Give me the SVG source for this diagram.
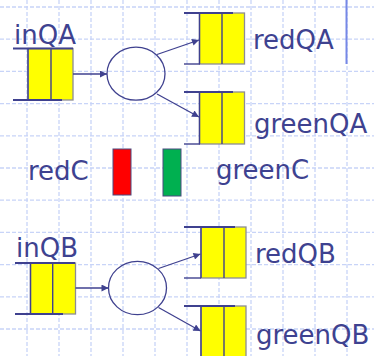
<svg xmlns="http://www.w3.org/2000/svg" width="374" height="356" viewBox="0 0 374 356">
<defs>
<marker id="ah" viewBox="0 0 10 10" refX="10" refY="5" markerWidth="9" markerHeight="7" markerUnits="userSpaceOnUse" orient="auto">
<path d="M0,0 L10,5 L0,10 z" fill="#3f418f"/>
</marker>
</defs>
<style>
.grid line{stroke:#c8d4f8;stroke-width:1.3;stroke-dasharray:4 2}
.lbl{font-family:"DejaVu Sans",Verdana,sans-serif;font-size:26px;fill:#3e4290}
.q{fill:#ffff00;stroke:#8c8c96;stroke-width:1.3}
.d{stroke:#3f418f;stroke-width:1.4;fill:none}
.t{stroke:#3f418f;stroke-width:2;fill:none}
.c{fill:none;stroke:#3f418f;stroke-width:1.3}
.con{stroke:#3f418f;stroke-width:1.3;fill:none;marker-end:url(#ah)}
</style>
<rect width="374" height="356" fill="#ffffff"/>
<g class="grid">
<line x1="27" y1="0" x2="27" y2="356"/><line x1="59" y1="0" x2="59" y2="356"/><line x1="91" y1="0" x2="91" y2="356"/><line x1="123" y1="0" x2="123" y2="356"/><line x1="155" y1="0" x2="155" y2="356"/><line x1="187" y1="0" x2="187" y2="356"/><line x1="219" y1="0" x2="219" y2="356"/><line x1="251" y1="0" x2="251" y2="356"/><line x1="283" y1="0" x2="283" y2="356"/><line x1="315" y1="0" x2="315" y2="356"/><line x1="347" y1="0" x2="347" y2="356"/>
<line x1="0" y1="7" x2="374" y2="7"/><line x1="0" y1="39.2" x2="374" y2="39.2"/><line x1="0" y1="71.4" x2="374" y2="71.4"/><line x1="0" y1="103.6" x2="374" y2="103.6"/><line x1="0" y1="135.8" x2="374" y2="135.8"/><line x1="0" y1="168" x2="374" y2="168"/><line x1="0" y1="200.2" x2="374" y2="200.2"/><line x1="0" y1="232.4" x2="374" y2="232.4"/><line x1="0" y1="264.6" x2="374" y2="264.6"/><line x1="0" y1="296.8" x2="374" y2="296.8"/><line x1="0" y1="329" x2="374" y2="329"/>
</g>
<line x1="346.5" y1="0" x2="346.5" y2="64" stroke="#7688e6" stroke-width="2"/>
<g id="inQA">
<rect class="q" x="28" y="48.5" width="45" height="51.5"/>
<line class="d" x1="28" y1="48.5" x2="28" y2="100"/><line class="d" x1="51" y1="48.5" x2="51" y2="100"/>
<line class="t" x1="13" y1="48.5" x2="73" y2="48.5"/><line class="t" x1="13" y1="100" x2="62" y2="100"/>
<text class="lbl" x="14" y="44">inQA</text>
</g>
<g id="procA"><ellipse class="c" cx="136" cy="73.7" rx="29" ry="26.5"/></g>
<g id="redQA">
<rect class="q" x="199.5" y="13" width="45" height="51"/>
<line class="d" x1="199.5" y1="13" x2="199.5" y2="64"/><line class="d" x1="222" y1="13" x2="222" y2="64"/>
<line class="t" x1="184" y1="13" x2="233" y2="13"/><line class="d" x1="184" y1="64" x2="200" y2="64"/>
<text class="lbl" x="253" y="49">redQA</text>
</g>
<g id="greenQA">
<rect class="q" x="199.5" y="92" width="45" height="52"/>
<line class="d" x1="199.5" y1="92" x2="199.5" y2="144"/><line class="d" x1="222" y1="92" x2="222" y2="144"/>
<line class="t" x1="184" y1="92" x2="233" y2="92"/><line class="d" x1="184" y1="144" x2="200" y2="144"/>
<text class="lbl" x="254" y="133">greenQA</text>
</g>
<g id="redC">
<text class="lbl" x="28" y="180">redC</text>
<rect x="113" y="149" width="18" height="46" fill="#ff0000" stroke="#4a4a80" stroke-width="1"/>
</g>
<g id="greenC">
<rect x="163" y="149" width="18" height="47" fill="#00b050" stroke="#4a4a80" stroke-width="1"/>
<text class="lbl" x="216" y="179">greenC</text>
</g>
<g id="inQB">
<rect class="q" x="30.5" y="263" width="45" height="51"/>
<line class="d" x1="30.5" y1="263" x2="30.5" y2="314"/><line class="d" x1="52.7" y1="263" x2="52.7" y2="314"/>
<line class="t" x1="15" y1="263" x2="75" y2="263"/><line class="t" x1="15" y1="314" x2="63" y2="314"/>
<text class="lbl" x="16" y="257">inQB</text>
</g>
<g id="procB"><ellipse class="c" cx="137.5" cy="288" rx="29" ry="26.7"/></g>
<g id="redQB">
<rect class="q" x="201" y="227" width="45" height="51"/>
<line class="d" x1="201" y1="227" x2="201" y2="278"/><line class="d" x1="224" y1="227" x2="224" y2="278"/>
<line class="t" x1="184" y1="227" x2="235" y2="227"/><line class="d" x1="184" y1="278" x2="201" y2="278"/>
<text class="lbl" x="255" y="263">redQB</text>
</g>
<g id="greenQB">
<rect class="q" x="201" y="306" width="45" height="60"/>
<line class="d" x1="201" y1="306" x2="201" y2="366"/><line class="d" x1="224" y1="306" x2="224" y2="366"/>
<line class="t" x1="184" y1="306" x2="235" y2="306"/>
<text class="lbl" x="256" y="344">greenQB</text>
</g>
<g id="connectors">
<line class="con" x1="73" y1="74" x2="107" y2="74"/>
<line class="con" x1="157" y1="54.5" x2="199" y2="40"/>
<line class="con" x1="157" y1="94" x2="199" y2="117"/>
<line class="con" x1="75.5" y1="288" x2="108.5" y2="288"/>
<line class="con" x1="158.5" y1="268.5" x2="200.5" y2="254"/>
<line class="con" x1="158.5" y1="307.5" x2="200.5" y2="331"/>
</g>
</svg>
